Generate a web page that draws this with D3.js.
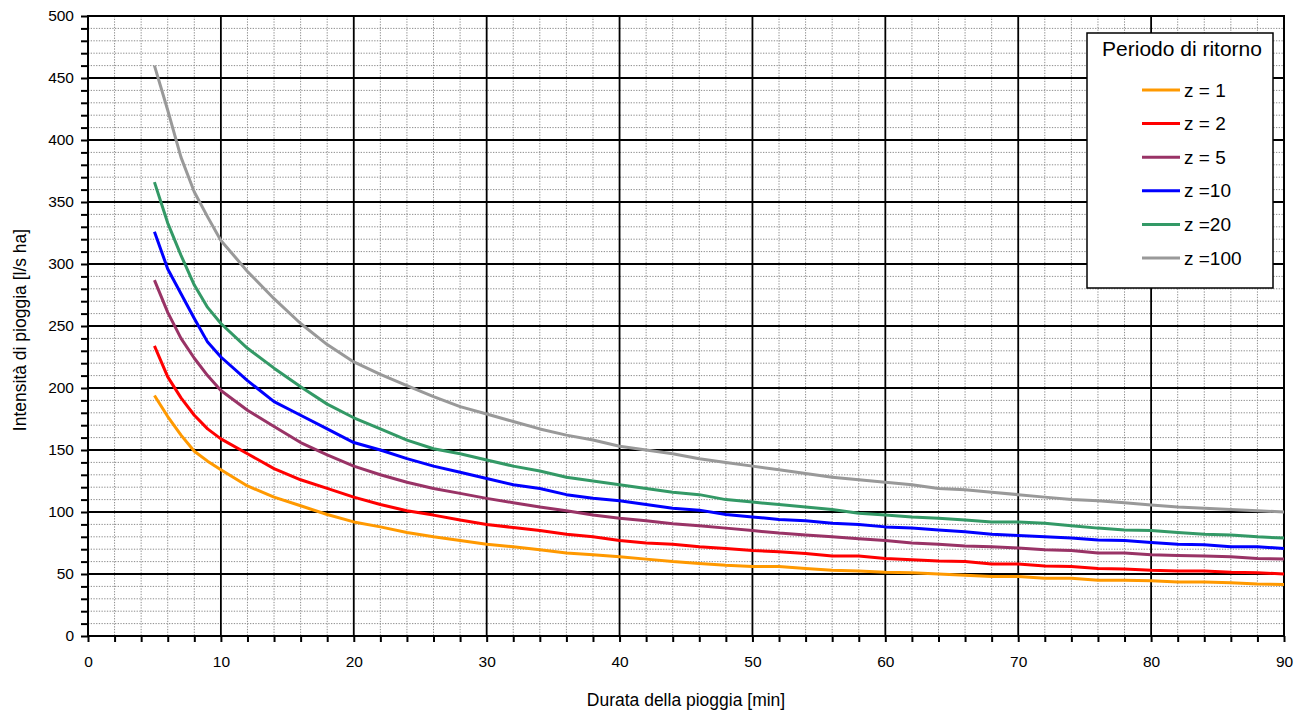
<!DOCTYPE html>
<html lang="it">
<head>
    <meta charset="UTF-8">
    <title>Intensità di pioggia</title>
    <script src="https://d3js.org/d3.v7.min.js"></script>
    <style>
        body { margin: 0; background: #fff; }
        svg text { font-family: "Liberation Sans", Arial, sans-serif; fill: #000; }
    </style>
</head>
<body>
    <div id="chart"></div>

    <script>
        // durations [min]
        const durata = [5, 6, 7, 8, 9, 10, 12, 14, 16, 18, 20, 22, 24, 26, 28, 30, 32, 34, 36, 38, 40,
            42, 44, 46, 48, 50, 52, 54, 56, 58, 60, 62, 64, 66, 68, 70, 72, 74, 76, 78, 80, 82, 84, 86, 88, 90];

        // intensity [l/s ha], one list per return period
        const z1 = [194, 177, 162, 149, 141, 134, 121, 112, 105, 98, 92, 88, 83.5, 80, 77, 74, 72, 69.5, 67, 65.5, 64,
            62, 60, 58.5, 57, 56, 56, 54.5, 53, 52.5, 51.5, 51, 50, 49, 48, 48, 46.5, 46.5, 45, 45, 44.5, 43.5, 43.5, 43, 42, 41.5];
        const z2 = [234, 209, 192, 178, 167, 159, 147, 135, 126, 119, 112, 106, 101, 97.5, 93.5, 90, 87.5, 85, 82, 80, 77,
            75, 74, 72, 70.5, 69, 68, 66.5, 64.5, 64.5, 62.5, 61.5, 60.5, 60, 58, 58, 56.5, 56, 54.5, 54, 53, 52.5, 52.5, 51.5, 51, 50];
        const z5 = [287, 261, 240, 224, 210, 198, 182, 169, 156, 146, 137, 130, 124, 119, 115, 111, 107.5, 104, 101, 97.5, 95,
            93, 90.5, 89, 87, 85, 83, 81.5, 80, 78.5, 77, 75, 74, 72.5, 72, 71, 69.5, 69, 67, 67, 65.5, 65, 64.5, 64, 62.5, 62];
        const z10 = [326, 296, 276, 256, 237, 225, 206, 189, 178, 167, 156, 150, 143, 137, 132, 127, 122, 119, 114, 111, 109,
            106, 103, 101.5, 98, 96, 94, 93, 91, 90, 88, 87, 85.5, 84, 82, 81, 80, 79, 77.5, 77, 75.5, 74, 73.5, 72, 72, 70.5];
        const z20 = [366, 333, 307, 283, 265, 252, 232, 216, 201, 187, 176, 167, 158, 151, 147, 142, 137, 133, 128, 125, 122,
            119, 116, 114, 110, 108, 106, 104, 102, 99, 97.5, 96, 95, 93.5, 92, 92, 91, 89, 87, 85.5, 85, 83.5, 82, 81.5, 80, 79];
        const z100 = [460, 424, 386, 358, 338, 319, 294, 272, 252, 235, 221, 211, 202, 193, 185, 179, 173, 167, 162, 158, 153,
            150, 147, 143, 140, 137, 134, 131, 128, 126, 124, 122, 119, 118, 116, 114, 112, 110, 109, 107.5, 105.6, 104, 103, 102, 101, 100];

        const labels = ["z = 1", "z = 2", "z = 5", "z =10", "z =20", "z =100"];
        const colors = ["#ff9900", "#ff0000", "#993366", "#0000ff", "#339966", "#999999"];
        const serie = [z1, z2, z5, z10, z20, z100];

        const W = 1295, H = 711;
        const margin = { top: 16, right: 11, bottom: 75, left: 88 };
        const width = W - margin.left - margin.right,
              height = H - margin.top - margin.bottom;

        const svg = d3.select("#chart").append("svg")
            .attr("width", W)
            .attr("height", H);

        const g = svg.append("g")
            .attr("transform", `translate(${margin.left},${margin.top})`);

        const x = d3.scaleLinear().domain([0, 90]).range([0, width]);
        const y = d3.scaleLinear().domain([0, 500]).range([height, 0]);

        // minor grid (dotted)
        g.append("g").selectAll("line.vx")
            .data(d3.range(2, 90, 2).filter(d => d % 10 !== 0))
            .join("line")
            .attr("x1", d => x(d)).attr("x2", d => x(d))
            .attr("y1", 0).attr("y2", height)
            .attr("stroke", "#8c8c8c").attr("stroke-width", 1).attr("stroke-dasharray", "1.3,1.4");
        g.append("g").selectAll("line.hy")
            .data(d3.range(10, 500, 10).filter(d => d % 50 !== 0))
            .join("line")
            .attr("x1", 0).attr("x2", width)
            .attr("y1", d => y(d)).attr("y2", d => y(d))
            .attr("stroke", "#8c8c8c").attr("stroke-width", 1).attr("stroke-dasharray", "1.3,1.4");

        // major grid (solid black)
        g.append("g").selectAll("line")
            .data(d3.range(10, 90, 10))
            .join("line")
            .attr("x1", d => x(d)).attr("x2", d => x(d))
            .attr("y1", 0).attr("y2", height)
            .attr("stroke", "#000").attr("stroke-width", 1.8);
        g.append("g").selectAll("line")
            .data(d3.range(50, 500, 50))
            .join("line")
            .attr("x1", 0).attr("x2", width)
            .attr("y1", d => y(d)).attr("y2", d => y(d))
            .attr("stroke", "#000").attr("stroke-width", 1.8);

        // axes
        const xAxis = g.append("g")
            .attr("transform", `translate(0,${height})`)
            .call(d3.axisBottom(x)
                .tickValues(d3.range(0, 91, 2))
                .tickFormat(d => d % 10 === 0 ? d : "")
                .tickSize(6).tickPadding(14));
        const yAxis = g.append("g")
            .call(d3.axisLeft(y)
                .tickValues(d3.range(0, 501, 10))
                .tickFormat(d => d % 50 === 0 ? d : "")
                .tickSize(7).tickPadding(7));
        [xAxis, yAxis].forEach(a => {
            a.select(".domain").remove();
            a.selectAll(".tick line").attr("stroke", "#000").attr("stroke-width", 2);
            a.selectAll(".tick text").style("font-size", "15.5px");
        });

        // plot frame
        g.append("rect")
            .attr("width", width).attr("height", height)
            .attr("fill", "none").attr("stroke", "#000").attr("stroke-width", 2);

        // curves
        const line = d3.line()
            .x((d, i) => x(durata[i]))
            .y(d => y(d));
        g.append("g").selectAll("path")
            .data(serie)
            .join("path")
            .attr("d", line)
            .attr("fill", "none")
            .attr("stroke", (d, i) => colors[i])
            .attr("stroke-width", 3)
            .attr("stroke-linejoin", "round");

        // axis titles
        svg.append("text")
            .attr("x", margin.left + width / 2).attr("y", 706)
            .attr("text-anchor", "middle")
            .style("font-size", "17.5px")
            .text("Durata della pioggia [min]");
        svg.append("text")
            .attr("transform", `translate(20,${margin.top + height / 2 + 4}) rotate(-90)`)
            .attr("text-anchor", "middle")
            .attr("dy", "0.35em")
            .style("font-size", "17.5px")
            .text("Intensità di pioggia [l/s ha]");

        // legend
        const lg = svg.append("g").attr("transform", "translate(1087,33)");
        lg.append("rect")
            .attr("width", 186).attr("height", 255)
            .attr("fill", "#fff").attr("stroke", "#000").attr("stroke-width", 1.5);
        lg.append("text")
            .attr("x", 95).attr("y", 23)
            .attr("text-anchor", "middle")
            .style("font-size", "21px")
            .text("Periodo di ritorno");
        const item = lg.selectAll("g.item")
            .data(labels)
            .join("g")
            .attr("class", "item")
            .attr("transform", (d, i) => `translate(0,${57 + i * 33.6})`);
        item.append("line")
            .attr("x1", 55).attr("x2", 93)
            .attr("stroke", (d, i) => colors[i])
            .attr("stroke-width", 3);
        item.append("text")
            .attr("x", 97).attr("dy", "0.35em")
            .style("font-size", "19px")
            .text(d => d);
    </script>
</body>
</html>
